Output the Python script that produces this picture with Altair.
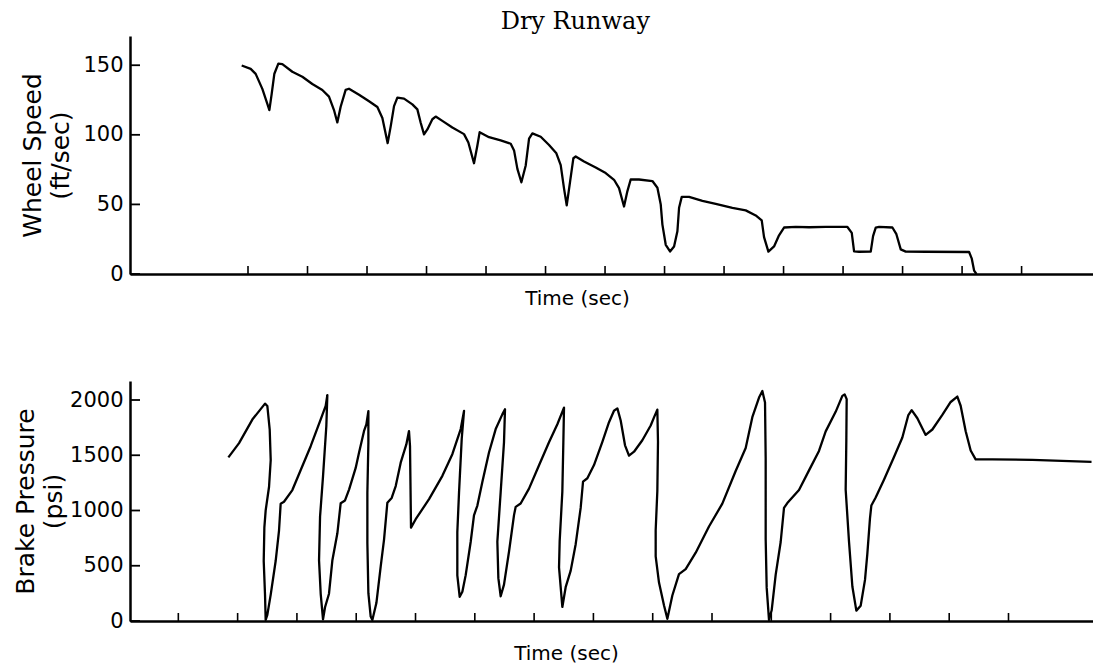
import altair as alt
import pandas as pd

title_text = "Dry Runway"
speed_title = ["Wheel Speed", "(ft/sec)"]
pressure_title = ["Brake Pressure", "(psi)"]
x_title = "Time (sec)"

# Wheel speed trace (time in tick units, ft/sec)
speed_t = [1.894, 2.045, 2.129, 2.241, 2.325, 2.359, 2.398, 2.443, 2.510, 2.577,
           2.745, 2.913, 3.081, 3.249, 3.361, 3.445, 3.501, 3.557, 3.641, 3.697,
           3.866, 4.034, 4.174, 4.258, 4.347, 4.398, 4.454, 4.510, 4.622, 4.762,
           4.846, 4.902, 4.958, 5.014, 5.098, 5.154, 5.266, 5.434, 5.630, 5.703,
           5.798, 5.854, 5.893, 6.050, 6.246, 6.415, 6.471, 6.527, 6.594, 6.667,
           6.723, 6.779, 6.919, 7.059, 7.182, 7.255, 7.311, 7.356, 7.412, 7.468,
           7.507, 7.647, 7.843, 8.011, 8.151, 8.235, 8.319, 8.375, 8.431, 8.571,
           8.796, 8.880, 8.936, 8.964, 9.020, 9.092, 9.160, 9.216, 9.244, 9.289,
           9.412, 9.636, 9.860, 10.140, 10.364, 10.532, 10.633, 10.672, 10.745, 10.840,
           10.924, 11.008, 11.204, 11.429, 11.709, 12.073, 12.146, 12.185, 12.269, 12.465,
           12.504, 12.549, 12.605, 12.829, 12.896, 12.969, 13.053, 13.389, 14.118, 14.163,
           14.202, 14.241]
speed_v = [149.8, 147.4, 143.8, 133.0, 122.2, 117.8, 129.4, 143.9, 151.2, 150.8,
           145.3, 141.7, 136.5, 132.2, 127.4, 117.8, 108.9, 120.2, 132.3, 133.1,
           128.8, 124.1, 120.0, 112.1, 94.0, 106.1, 120.6, 126.7, 126.0, 121.9,
           118.3, 108.7, 100.3, 103.9, 111.2, 113.1, 110.0, 105.3, 100.5, 94.5,
           79.6, 92.2, 101.9, 98.3, 96.0, 93.6, 88.8, 75.5, 65.9, 78.0,
           97.3, 101.0, 98.6, 92.7, 86.7, 78.2, 61.4, 49.3, 66.2, 83.2,
           84.4, 80.8, 76.5, 72.5, 67.7, 61.7, 48.5, 59.4, 67.9, 67.9,
           66.8, 62.0, 49.9, 35.5, 21.0, 16.2, 19.8, 30.7, 47.6, 55.4,
           55.4, 52.6, 50.3, 47.5, 45.7, 42.1, 38.5, 26.5, 16.1, 19.8,
           27.8, 33.4, 33.9, 33.6, 33.9, 33.8, 29.5, 16.2, 16.0, 16.1,
           27.2, 33.3, 33.8, 33.4, 28.6, 17.7, 16.1, 16.0, 15.8, 11.0,
           2.5, 0.0]

# Brake pressure trace (time in tick units, psi)
pressure_t = [1.844, 2.024, 2.248, 2.462, 2.501, 2.541, 2.558, 2.530, 2.473, 2.451,
              2.440, 2.462, 2.473, 2.501, 2.558, 2.642, 2.698, 2.726, 2.782, 2.923,
              3.064, 3.232, 3.401, 3.485, 3.513, 3.496, 3.440, 3.390, 3.373, 3.401,
              3.440, 3.474, 3.541, 3.598, 3.682, 3.738, 3.811, 3.879, 3.991, 4.047,
              4.132, 4.171, 4.205, 4.205, 4.188, 4.188, 4.205, 4.244, 4.272, 4.340,
              4.413, 4.469, 4.525, 4.598, 4.666, 4.750, 4.845, 4.890, 4.907, 4.924,
              5.003, 5.228, 5.453, 5.621, 5.762, 5.818, 5.779, 5.734, 5.705, 5.705,
              5.745, 5.790, 5.846, 5.930, 5.986, 6.043, 6.127, 6.239, 6.352, 6.464,
              6.509, 6.492, 6.436, 6.380, 6.397, 6.436, 6.492, 6.577, 6.661, 6.689,
              6.773, 6.914, 7.083, 7.251, 7.392, 7.504, 7.493, 7.476, 7.431, 7.420,
              7.476, 7.532, 7.617, 7.701, 7.785, 7.825, 7.898, 8.010, 8.151, 8.263,
              8.347, 8.404, 8.460, 8.533, 8.600, 8.685, 8.825, 8.966, 9.022, 9.078,
              9.089, 9.078, 9.050, 9.050, 9.106, 9.191, 9.247, 9.331, 9.443, 9.556,
              9.725, 9.949, 10.174, 10.399, 10.568, 10.680, 10.793, 10.849, 10.894, 10.905,
              10.905, 10.922, 10.961, 11.006, 11.074, 11.158, 11.214, 11.270, 11.467, 11.636,
              11.804, 11.917, 12.085, 12.198, 12.237, 12.271, 12.265, 12.254, 12.310, 12.367,
              12.434, 12.507, 12.580, 12.619, 12.664, 12.687, 12.760, 12.900, 13.069, 13.210,
              13.311, 13.367, 13.463, 13.603, 13.716, 13.884, 14.025, 14.137, 14.193, 14.278,
              14.362, 14.446, 14.727, 15.402, 16.400]
pressure_v = [1481, 1610, 1823, 1967, 1946, 1733, 1457, 1215, 1001, 848,
              543, 238, 10, 55, 239, 545, 819, 1062, 1079, 1185,
              1367, 1582, 1825, 1947, 2044, 1765, 1309, 944, 549, 246,
              15, 124, 247, 550, 794, 1066, 1091, 1189, 1385, 1522,
              1720, 1779, 1900, 1613, 1159, 705, 252, 40, 10, 162,
              495, 737, 1070, 1114, 1221, 1433, 1598, 1719, 1584, 845,
              921, 1103, 1314, 1510, 1737, 1902, 1647, 1166, 804, 413,
              219, 264, 415, 715, 956, 1045, 1257, 1525, 1737, 1870,
              1916, 1616, 1167, 718, 388, 224, 329, 629, 958, 1033,
              1063, 1198, 1409, 1618, 1781, 1931, 1618, 1171, 723, 485,
              127, 306, 456, 695, 1023, 1262, 1292, 1411, 1621, 1799,
              1903, 1924, 1814, 1590, 1496, 1532, 1636, 1769, 1843, 1913,
              1622, 1177, 821, 585, 348, 141, 20, 231, 424, 469,
              618, 855, 1062, 1358, 1566, 1844, 2022, 2081, 1977, 1477,
              742, 302, 10, 97, 420, 715, 1023, 1067, 1186, 1363,
              1539, 1716, 1893, 2037, 2051, 2008, 1628, 1189, 721, 312,
              94, 138, 372, 606, 928, 1045, 1118, 1279, 1485, 1660,
              1864, 1908, 1835, 1684, 1733, 1865, 1982, 2031, 1948, 1717,
              1543, 1463, 1463, 1458, 1440]

speed_yticks = [0, 50, 100, 150]
pressure_yticks = [0, 500, 1000, 1500, 2000]
speed_xticks = [2, 3, 4, 5, 6, 7, 8, 9, 10, 11, 12, 13, 14, 15]
pressure_xticks = [1, 2, 3, 4, 5, 6, 7, 8, 9, 10, 11, 12, 13, 14, 15]

W = 963
SANS = "DejaVu Sans"


def panel(t, v, xticks, yticks, xdom, ydom, ytitle, ypad, height, xtx, xpad):
    df = pd.DataFrame({"t": t, "v": v, "i": list(range(len(t)))})
    xs = alt.Scale(domain=xdom, nice=False, zero=False)
    ys = alt.Scale(domain=ydom, nice=False, zero=False)
    xaxis = alt.Axis(
        labels=False, ticks=False, tickSize=0, grid=False,
        domainColor="black", domainWidth=2.5,
        title=x_title, titleFont=SANS, titleFontSize=20,
        titleFontWeight="normal", titleColor="black",
        titlePadding=xpad, titleX=xtx, titleAlign="center")
    yaxis = alt.Axis(
        values=yticks, format="d", ticks=False, tickSize=0, grid=False,
        labelPadding=7, labelFont=SANS, labelFontSize=21,
        labelColor="black", domainColor="black", domainWidth=2.5,
        title=ytitle, titleFont=SANS, titleFontSize=25,
        titleFontWeight="normal", titleColor="black",
        titlePadding=ypad, titleLineHeight=28)
    line = alt.Chart(df).mark_line(
        color="black", strokeWidth=2.3, strokeJoin="round", clip=True
    ).encode(
        x=alt.X("t:Q", scale=xs, axis=xaxis),
        y=alt.Y("v:Q", scale=ys, axis=yaxis),
        order="i:Q",
    )
    xt = alt.Chart(pd.DataFrame({"t": xticks})).mark_rule(
        color="black", strokeWidth=1.6
    ).encode(
        x=alt.X("t:Q", scale=xs, axis=xaxis),
        y=alt.value(height), y2=alt.value(height - 8),
    )
    yt = alt.Chart(pd.DataFrame({"v": yticks})).mark_rule(
        color="black", strokeWidth=1.8
    ).encode(
        y=alt.Y("v:Q", scale=ys, axis=yaxis),
        x=alt.value(0), x2=alt.value(10),
    )
    return alt.layer(line, xt, yt).properties(width=W, height=height)


top = panel(speed_t, speed_v, speed_xticks, speed_yticks,
            [0.017, 16.2], [0, 171], speed_title, 9, 238, 447, 14)
bottom = panel(pressure_t, pressure_v, pressure_xticks, pressure_yticks,
               [0.185, 16.425], [0, 2172], pressure_title, 3, 240, 436, 22)

chart = alt.vconcat(top, bottom, spacing=73).properties(
    title=alt.TitleParams(title_text, font="DejaVu Serif", fontSize=24,
                          fontWeight="normal", color="black",
                          anchor="middle", offset=2, dx=22),
    padding={"left": 5, "top": 2, "right": 0, "bottom": 0},
    background="white",
).configure_view(stroke=None)

chart.save("out.html", embed_options={"renderer": "svg", "actions": False})
